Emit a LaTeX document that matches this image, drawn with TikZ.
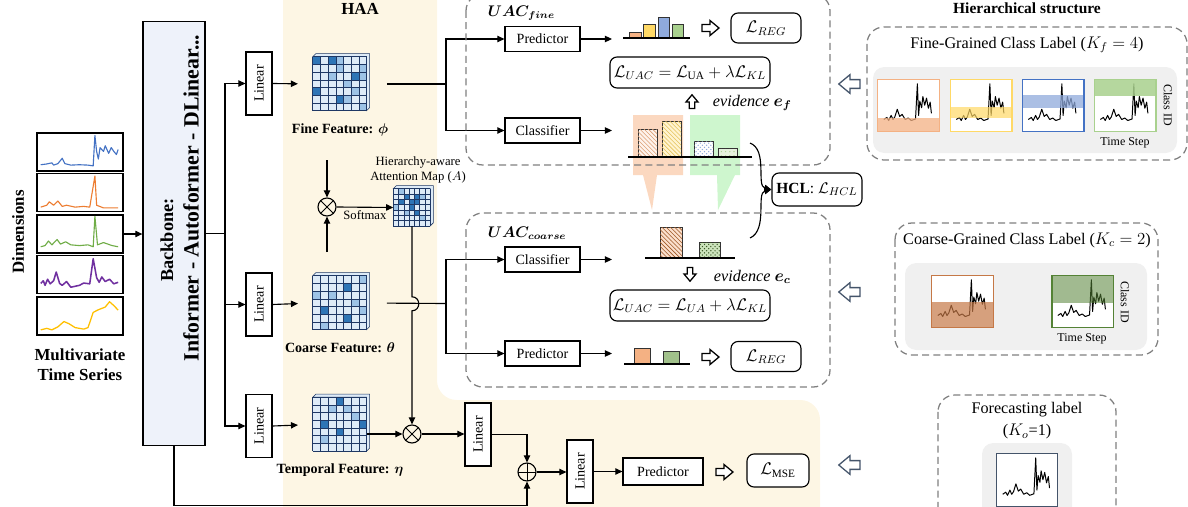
\documentclass[tikz,border=0pt]{standalone}
\usepackage{fontspec}
\setmainfont{Liberation Serif}
\usepackage{amsmath, amssymb, bm}
\usepackage{graphicx}
\usepackage{tikz}
\usetikzlibrary{arrows.meta, calc, patterns, positioning}
\usepackage{xcolor}
\definecolor{haabg}{RGB}{253,246,228}
\definecolor{bbfill}{RGB}{238,242,250}
\definecolor{dashgray}{RGB}{128,128,128}
\definecolor{panelgrey}{RGB}{240,240,240}
\definecolor{cellbg}{RGB}{222,235,247}
\definecolor{cellmid}{RGB}{157,195,230}
\definecolor{celldark}{RGB}{46,117,182}
\definecolor{gridnavy}{RGB}{31,56,100}
\definecolor{tsblue}{RGB}{68,114,196}
\definecolor{tsorange}{RGB}{237,125,49}
\definecolor{tsgreen}{RGB}{112,173,71}
\definecolor{tspurple}{RGB}{112,48,160}
\definecolor{tsyellow}{RGB}{255,192,0}
\definecolor{barorange}{RGB}{244,177,131}
\definecolor{baryellow}{RGB}{255,217,102}
\definecolor{barblue}{RGB}{143,170,220}
\definecolor{bargreen}{RGB}{169,209,142}
\definecolor{hlorange}{RGB}{251,216,192}
\definecolor{hlgreen}{RGB}{206,246,206}
\definecolor{brownhatch}{RGB}{160,90,40}
\definecolor{darkgreen}{RGB}{56,87,35}
\definecolor{arrownavy}{RGB}{68,84,106}
\definecolor{coarseorange}{RGB}{197,120,70}
\definecolor{coarsegreen}{RGB}{84,130,53}

% 7x7 feature map drawn inside an empty node
\newcommand{\featmap}[4]{%
  \begin{scope}[shift={(#1.north west)}]
    \draw[gridnavy, line width=0.4pt, fill=cellbg] (0,0) -- (3,-3) -- (7*#2+3,-3) -- (7*#2+3,7*#2-3) -- (7*#2,7*#2) -- (7*#2,0) -- cycle;
    \fill[cellbg] (0,0) rectangle (7*#2,7*#2);
    \foreach \ri/\ci in {#3} \fill[celldark] (\ci*#2,\ri*#2) rectangle ++(#2,#2);
    \foreach \ri/\ci in {#4} \fill[cellmid] (\ci*#2,\ri*#2) rectangle ++(#2,#2);
    \foreach \k in {0,...,7} {
      \draw[gridnavy, line width=0.4pt] (\k*#2,0) -- (\k*#2,7*#2);
      \draw[gridnavy, line width=0.4pt] (0,\k*#2) -- (7*#2,\k*#2);
    }
  \end{scope}}

\tikzset{
  harrow/.pic={\draw[line width=0.9pt, fill=white] (-8,-3.5) -- (0,-3.5) -- (0,-7.5) -- (9,0) -- (0,7.5) -- (0,3.5) -- (-8,3.5) -- cycle;},
  serblue/.pic={\draw[line join=round] (0.05,0.85) -- (0.12,0.83) -- (0.18,0.8) -- (0.2,0.86) -- (0.25,0.82) -- (0.3,0.68) -- (0.33,0.82) -- (0.4,0.86) -- (0.5,0.85) -- (0.6,0.86) -- (0.66,0.88) -- (0.68,0.08) -- (0.7,0.5) -- (0.72,0.7) -- (0.74,0.4) -- (0.78,0.5) -- (0.8,0.35) -- (0.84,0.55) -- (0.87,0.4) -- (0.9,0.5) -- (0.93,0.58) -- (0.95,0.45);},
  serorange/.pic={\draw[line join=round] (0.05,0.9) -- (0.12,0.85) -- (0.15,0.76) -- (0.2,0.85) -- (0.25,0.74) -- (0.3,0.88) -- (0.35,0.85) -- (0.45,0.9) -- (0.55,0.88) -- (0.62,0.9) -- (0.68,0.08) -- (0.7,0.85) -- (0.78,0.92) -- (0.95,0.92);},
  sergreen/.pic={\draw[line join=round] (0.05,0.85) -- (0.1,0.82) -- (0.14,0.7) -- (0.18,0.8) -- (0.24,0.66) -- (0.28,0.78) -- (0.34,0.72) -- (0.4,0.8) -- (0.5,0.82) -- (0.6,0.8) -- (0.66,0.85) -- (0.68,0.05) -- (0.71,0.8) -- (0.78,0.74) -- (0.88,0.82) -- (0.95,0.85);},
  serpurple/.pic={\draw[line join=round] (0.05,0.75) -- (0.08,0.68) -- (0.1,0.8) -- (0.13,0.64) -- (0.16,0.76) -- (0.2,0.68) -- (0.23,0.45) -- (0.27,0.75) -- (0.3,0.8) -- (0.35,0.7) -- (0.4,0.85) -- (0.5,0.8) -- (0.55,0.74) -- (0.62,0.76) -- (0.66,0.1) -- (0.7,0.6) -- (0.73,0.72) -- (0.76,0.58) -- (0.8,0.7) -- (0.85,0.64) -- (0.9,0.76) -- (0.95,0.72);},
  seryellow/.pic={\draw[line join=round] (0.05,0.88) -- (0.12,0.84) -- (0.18,0.88) -- (0.25,0.8) -- (0.32,0.66) -- (0.38,0.72) -- (0.45,0.82) -- (0.55,0.86) -- (0.6,0.82) -- (0.66,0.42) -- (0.72,0.35) -- (0.8,0.28) -- (0.85,0.14) -- (0.9,0.24) -- (0.95,0.36);},
  serlabel/.pic={\draw[line join=round] (0.1,0.78) -- (0.15,0.74) -- (0.18,0.8) -- (0.22,0.7) -- (0.25,0.78) -- (0.28,0.73) -- (0.32,0.58) -- (0.36,0.72) -- (0.4,0.68) -- (0.45,0.78) -- (0.5,0.75) -- (0.55,0.8) -- (0.62,0.77) -- (0.65,0.08) -- (0.67,0.7) -- (0.69,0.42) -- (0.72,0.55) -- (0.74,0.33) -- (0.77,0.5) -- (0.8,0.36) -- (0.83,0.56) -- (0.86,0.44) -- (0.88,0.66);},
}

\begin{document}
\begin{tikzpicture}[x=0.025cm, y=-0.025cm,
  conn/.style={line width=0.8pt},
  arr/.style={conn, -{Triangle[length=5pt,width=4.5pt]}},
  opbox/.style={draw, line width=0.8pt, fill=white, minimum width=1.875cm, minimum height=0.625cm, inner sep=0pt, font=\fontsize{10}{12}\selectfont},
  linbox/.style={draw, line width=0.8pt, fill=white, minimum width=0.65cm, minimum height=1.575cm, inner sep=0pt, font=\fontsize{10}{12}\selectfont},
  lossbox/.style={draw, line width=0.8pt, fill=white, rounded corners=5pt, inner sep=0pt, font=\fontsize{12}{14}\selectfont},
  tsbox/.style={draw, line width=0.8pt, fill=white, minimum width=2.15cm, minimum height=0.95cm, inner sep=0pt},
  lblpanel/.style={fill=white, minimum width=1.525cm, minimum height=1.275cm, inner sep=0pt},
  featnode/.style={inner sep=0pt},
  featlab/.style={inner sep=0pt, font=\bfseries\fontsize{10}{12}\selectfont},
  mulop/.style={circle, draw, line width=0.8pt, minimum size=0.45cm, inner sep=0pt,
    path picture={\draw[line width=0.7pt] (path picture bounding box.north west) -- (path picture bounding box.south east) (path picture bounding box.north east) -- (path picture bounding box.south west);}},
  addop/.style={circle, draw, line width=0.8pt, minimum size=0.45cm, inner sep=0pt,
    path picture={\draw[line width=0.7pt] (path picture bounding box.north) -- (path picture bounding box.south) (path picture bounding box.west) -- (path picture bounding box.east);}},
  dashbox/.style={draw=dashgray, line width=0.9pt, dash pattern=on 5pt off 3pt, rounded corners=12pt},
  greybg/.style={fill=panelgrey, rounded corners=8pt},
  bar/.style={draw=black!80, line width=0.5pt},
  hsfont/.style={font=\fontsize{11.5}{15.5}\selectfont},
  smallfont/.style={font=\fontsize{8.5}{10}\selectfont},
  evlab/.style={font=\fontsize{11.5}{13}\selectfont},
  uaclab/.style={font=\fontsize{10.5}{12}\selectfont}]
  \useasboundingbox (0,0) rectangle (1188,506);
  \clip (0,0) rectangle (1188,506);

  % HAA background
  \fill[haabg, rounded corners=14pt] (283,540) -- (283,-30) -- (437,-30) -- (437,400) -- (820,400) -- (820,540) -- cycle;
  \node[font=\bfseries\fontsize{12}{14}\selectfont] (haa) at (360,9) {HAA};
  \node[font=\bfseries\fontsize{11}{13}\selectfont] (hstitle) at (1027,8) {Hierarchical structure};

  % Input series
  \node[rotate=90, font=\bfseries\fontsize{12}{14}\selectfont] (dims) at (18,232) {Dimensions};
  \node[tsbox] (ts1) at (80,152) {};
  \node[tsbox] (ts2) at (80,192.5) {};
  \node[tsbox] (ts3) at (80,234) {};
  \node[tsbox] (ts4) at (80,274.5) {};
  \node[tsbox] (ts5) at (80,316) {};
  \pic[tsblue, line width=0.8pt, xscale=86, yscale=38] at (ts1.north west) {serblue};
  \pic[tsorange, line width=0.8pt, xscale=86, yscale=38] at (ts2.north west) {serorange};
  \pic[tsgreen, line width=0.8pt, xscale=86, yscale=38] at (ts3.north west) {sergreen};
  \pic[tspurple, line width=1.1pt, xscale=86, yscale=38] at (ts4.north west) {serpurple};
  \pic[tsyellow, line width=0.9pt, xscale=86, yscale=38] at (ts5.north west) {seryellow};
  \node[align=center, font=\bfseries\fontsize{12}{14}\selectfont] (mtslab) at (80,365) {Multivariate\\Time Series};

  % Backbone
  \node[draw, line width=0.9pt, fill=bbfill, minimum width=1.55cm, minimum height=10.6cm] (bb) at (174,233.5) {};
  \node[rotate=90, font=\bfseries\fontsize{13}{15}\selectfont] (bbtitle) at (167,240) {Backbone:};
  \node[rotate=90, font=\bfseries\fontsize{15.5}{18}\selectfont] (bbmodels) at (191,198) {Informer - Autoformer - DLinear...};
  \draw[arr] (ts3.east) -- (ts3.east -| bb.west);

  % Linear branches
  \node[linbox] (lin1) at (259,83.5) {\rotatebox{90}{Linear}};
  \node[linbox] (lin2) at (259,304.5) {\rotatebox{90}{Linear}};
  \node[linbox] (lin3) at (259,426) {\rotatebox{90}{Linear}};
  \coordinate (split) at (225,233.5);
  \draw[conn] (bb.east) -- (split);
  \draw[arr] (split) |- (lin1.west);
  \draw[arr] (split) |- (lin2.west);
  \draw[arr] (split) |- (lin3.west);

  % Feature maps
  \node[featnode, minimum size=1.35cm] (fine) at (340,84) {};
  \node[featnode, minimum size=1.35cm] (coarse) at (340,303) {};
  \node[featnode, minimum size=1.35cm] (temp) at (340,424.5) {};
  \featmap{fine}{7.7}{0/0,0/2,2/5,4/0,5/3}{0/3,1/3,2/2,3/4,4/5,5/4,6/6,2/6,1/6}
  \featmap{coarse}{7.7}{1/4,4/1,5/4}{0/6,2/0,2/2,3/5,4/6,6/1}
  \featmap{temp}{7.7}{0/3,3/1,4/3,3/6}{1/2,1/4,5/1,2/5}
  \node[featlab, below=0.3cm of fine] (finelab) {Fine Feature: $\bm{\phi}$};
  \node[featlab, below=0.3cm of coarse] (coarselab) {Coarse Feature: $\bm{\theta}$};
  \node[featlab, below=0.3cm of temp] (templab) {Temporal Feature: $\bm{\eta}$};
  \draw[arr, shorten >=10.5pt] (lin1.east) -- (fine.west);
  \draw[arr, shorten >=10.5pt] (lin2.east) -- (coarse.west);
  \draw[arr, shorten >=10.5pt] (lin3.east) -- (temp.west);

  % Attention
  \node[mulop] (mul1) at (327,207) {};
  \coordinate (fdown) at (327,160);
  \coordinate (cup) at (327,252);
  \draw[arr] (fdown) -- (mul1);
  \draw[arr] (cup) -- (mul1);
  \node[featnode, minimum size=0.925cm] (attn) at (412,207.5) {};
  \featmap{attn}{5.3}{1/2,2/1,2/3,3/3,4/4,1/4,2/4}{0/1,1/5,4/2,5/5,3/0}
  \node[align=center, inner sep=0pt, font=\fontsize{9}{11}\selectfont, above=0.12cm of attn, xshift=0.15cm] (attnlab) {Hierarchy-aware\\Attention Map ($A$)};
  \draw[arr] (mul1.east) -- (attn.west) node[midway, below=2pt, inner sep=0pt, font=\fontsize{9}{11}\selectfont] (smx) {Softmax};

  \node[mulop] (mul2) at (412,434) {};
  \draw[arr] (attn.south) -- ++(0,70.5) .. controls +(9,0) and +(9,0) .. ++(0,14) -- (mul2.north);
  \draw[arr] (temp.east |- mul2) -- (mul2.west);

  % Heads
  \coordinate (fsplit) at (446,84);
  \coordinate (csplit) at (446,303.5);
  \draw[conn, shorten <=14pt] (fine.east) -- (fsplit);
  \draw[conn, shorten <=14pt] (coarse.east) -- (csplit);
  \node[opbox] (pred1) at (542.5,39) {Predictor};
  \node[opbox] (cls1) at (542.5,130.5) {Classifier};
  \node[opbox] (cls2) at (542.5,259.5) {Classifier};
  \node[opbox] (pred2) at (542.5,353.5) {Predictor};
  \draw[arr] (fsplit) |- (pred1.west);
  \draw[arr] (fsplit) |- (cls1.west);
  \draw[arr] (csplit) |- (cls2.west);
  \draw[arr] (csplit) |- (pred2.west);

  % Forecasting branch
  \node[linbox] (lin4) at (478,434.5) {\rotatebox{90}{Linear}};
  \node[addop] (plus) at (527,472) {};
  \node[linbox] (lin5) at (580,471.5) {\rotatebox{90}{Linear}};
  \node[opbox, minimum width=2cm, minimum height=0.675cm] (pred3) at (663,471.5) {Predictor};
  \node[lossbox, minimum width=1.55cm, minimum height=0.825cm] (mse) at (778,470.5) {$\mathcal{L}_{\mathrm{MSE}}$};
  \draw[arr] (mul2.east) -- (lin4.west |- mul2);
  \draw[arr] (lin4.east) -| (plus.north);
  \draw[arr] (bb.south) -- ++(0,59) -| (plus.south);
  \draw[arr] (plus.east) -- (lin5.west |- plus);
  \draw[arr] (lin5.east) -- (pred3.west);
  \pic at (724,472) {harrow};

  % UAC fine
  \fill[hlorange] (633,115) -- (683,115) -- (683,175) -- (657,175) -- (652,210) -- (643,175) -- (633,175) -- cycle;
  \fill[hlgreen] (690,115) -- (740,115) -- (740,175) -- (735,175) -- (718,210) -- (717,175) -- (690,175) -- cycle;
  \draw[dashbox] (466,-6) rectangle (830,165);
  \node[uaclab, anchor=west] (uacf) at (483,13) {$\bm{UAC_{fine}}$};
  \coordinate (pb1) at (612,39);
  \draw[arr] (pred1.east) -- (pb1);
  \draw[bar, fill=barorange] (629,38) rectangle (641,32);
  \draw[bar, fill=baryellow] (643,38) rectangle (655,24);
  \draw[bar, fill=barblue] (658,38) rectangle (669,17);
  \draw[bar, fill=bargreen] (672,38) rectangle (683,24);
  \draw[conn] (623,38) -- (690,38);
  \pic at (710,28) {harrow};
  \node[lossbox, minimum width=1.75cm, minimum height=0.75cm] (reg1) at (766,28) {$\mathcal{L}_{REG}$};
  \node[lossbox, minimum width=4cm, minimum height=0.775cm, font=\fontsize{11.5}{13}\selectfont] (uac1) at (690,72.5) {$\mathcal{L}_{UAC}=\mathcal{L}_{\mathrm{UA}}+\lambda\mathcal{L}_{KL}$};
  \pic[rotate=90, scale=0.8] at (692,102) {harrow};
  \node[evlab, anchor=west] (evf) at (708,103) {\textit{evidence} $\bm{e}_{\bm{f}}$};
  \coordinate (cb1) at (612,130.5);
  \draw[arr] (cls1.east) -- (cb1);
  \draw[bar, fill=white!70!hlorange, postaction={pattern=north west lines, pattern color=barorange!90!black}] (638,157) rectangle (657,129);
  \draw[bar, fill=white!70!baryellow, postaction={pattern=north west lines, pattern color=baryellow!90!black}] (662,157) rectangle (681,121);
  \draw[bar, fill=white, postaction={pattern=crosshatch dots, pattern color=barblue}] (694,157) rectangle (713,141);
  \draw[bar, fill=white!70!bargreen, postaction={pattern=dots, pattern color=bargreen}] (718,157) rectangle (737,148);
  \draw[conn] (628,157) -- (752,157);

  % HCL
  \node[lossbox, minimum width=2.25cm, minimum height=0.825cm, font=\fontsize{11}{13}\selectfont] (hcl) at (817,189.5) {\textbf{HCL}: $\mathcal{L}_{HCL}$};
  \coordinate (fbend) at (750,143);
  \coordinate (cbend) at (750,238);
  \draw[arr] (fbend) .. controls (768,150) and (756,186) .. (hcl.west);
  \draw[arr] (cbend) .. controls (768,230) and (756,193) .. (hcl.west);

  % UAC coarse
  \draw[dashbox] (466,213) rectangle (830,387);
  \node[uaclab, anchor=west] (uacc) at (483,233) {$\bm{UAC_{coarse}}$};
  \coordinate (cb2) at (612,259.5);
  \draw[arr] (cls2.east) -- (cb2);
  \draw[bar, fill=white!60!barorange, postaction={pattern=north west lines, pattern color=brownhatch}] (660,258) rectangle (682,227);
  \draw[bar, fill=white!40!bargreen, postaction={pattern=crosshatch dots, pattern color=darkgreen}] (699,258) rectangle (720,242);
  \draw[conn] (645,258) -- (735,258);
  \pic[rotate=-90, scale=0.8] at (690,274) {harrow};
  \node[evlab, anchor=west] (evc) at (709,277) {\textit{evidence} $\bm{e}_{\bm{c}}$};
  \node[lossbox, minimum width=4cm, minimum height=0.775cm, font=\fontsize{11.5}{13}\selectfont] (uac2) at (690,305.5) {$\mathcal{L}_{UAC}=\mathcal{L}_{UA}+\lambda\mathcal{L}_{KL}$};
  \coordinate (pb2) at (612,353.5);
  \draw[arr] (pred2.east) -- (pb2);
  \draw[bar, fill=barorange] (634,364) rectangle (650,348);
  \draw[bar, fill=bargreen!80!gray] (663,364) rectangle (679,351);
  \draw[conn] (624,364) -- (690,364);
  \pic at (710,357) {harrow};
  \node[lossbox, minimum width=1.75cm, minimum height=0.75cm] (reg2) at (766,356.5) {$\mathcal{L}_{REG}$};

  % Hierarchical structure
  \pic[rotate=180, scale=1.25, arrownavy] at (850,84) {harrow};
  \pic[rotate=180, scale=1.25, arrownavy] at (850,292) {harrow};
  \pic[rotate=180, scale=1.25, arrownavy] at (850,465) {harrow};

  \draw[dashbox] (867,27) rectangle (1187,160);
  \node[hsfont] (finetitle) at (1027,45) {Fine-Grained Class Label ($K_f = 4$)};
  \fill[greybg] (873,67) rectangle (1177,153);
  \node[lblpanel] (p1) at (908.5,105.5) {};
  \node[lblpanel] (p2) at (981,105.5) {};
  \node[lblpanel] (p3) at (1053,105.5) {};
  \node[lblpanel] (p4) at (1125,105.5) {};
  \pic[line width=0.7pt, xscale=61, yscale=51] at (p1.north west) {serlabel};
  \pic[line width=0.7pt, xscale=61, yscale=51] at (p2.north west) {serlabel};
  \pic[line width=0.7pt, xscale=61, yscale=51] at (p3.north west) {serlabel};
  \pic[line width=0.7pt, xscale=61, yscale=51] at (p4.north west) {serlabel};
  \fill[barorange, opacity=0.75] ($(p1.south west)+(0,-13)$) rectangle (p1.south east);
  \fill[baryellow, opacity=0.7] ($(p2.south west)+(0,-24)$) rectangle ($(p2.south east)+(0,-13)$);
  \fill[barblue, opacity=0.75] ($(p3.south west)+(0,-36)$) rectangle ($(p3.south east)+(0,-23)$);
  \fill[bargreen, opacity=0.85] (p4.north west) rectangle ($(p4.north east)+(0,16)$);
  \draw[barorange, line width=1pt] (p1.north west) rectangle (p1.south east);
  \draw[baryellow, line width=1pt] (p2.north west) rectangle (p2.south east);
  \draw[tsblue, line width=1pt] (p3.north west) rectangle (p3.south east);
  \draw[bargreen, line width=1pt] (p4.north west) rectangle (p4.south east);
  \node[smallfont, rotate=-90] (cid1) at (1168,105) {Class ID};
  \node[smallfont] (tstep1) at (1125,143) {Time Step};

  \draw[dashbox] (895,223) rectangle (1158,355);
  \node[hsfont] (coarsetitle) at (1027,240) {Coarse-Grained Class Label ($K_c = 2$)};
  \fill[greybg] (905,263) rectangle (1147,350);
  \node[lblpanel] (q1) at (962.5,301.5) {};
  \node[lblpanel] (q2) at (1082.5,301.5) {};
  \pic[line width=0.7pt, xscale=61, yscale=51] at (q1.north west) {serlabel};
  \pic[line width=0.7pt, xscale=61, yscale=51] at (q2.north west) {serlabel};
  \fill[coarseorange, opacity=0.7] ($(q1.south west)+(0,-25)$) rectangle (q1.south east);
  \fill[coarsegreen, opacity=0.55] (q2.north west) rectangle ($(q2.north east)+(0,27)$);
  \draw[coarseorange, line width=1.1pt] (q1.north west) rectangle (q1.south east);
  \draw[coarsegreen, line width=1.1pt] (q2.north west) rectangle (q2.south east);
  \node[smallfont, rotate=-90] (cid2) at (1125,302) {Class ID};
  \node[smallfont] (tstep2) at (1082,339) {Time Step};

  \draw[dashbox] (938,395) rectangle (1116,540);
  \node[hsfont, align=center] (fctitle) at (1027,421) {Forecasting label\\($K_o$=1)};
  \fill[greybg] (982,443) rectangle (1072,540);
  \node[lblpanel, minimum width=1.5cm, minimum height=1.3cm] (r1) at (1027,480) {};
  \pic[line width=0.7pt, xscale=60, yscale=52] at (r1.north west) {serlabel};
  \draw[arrownavy, line width=1pt] (r1.north west) rectangle (r1.south east);
\end{tikzpicture}
\end{document}
